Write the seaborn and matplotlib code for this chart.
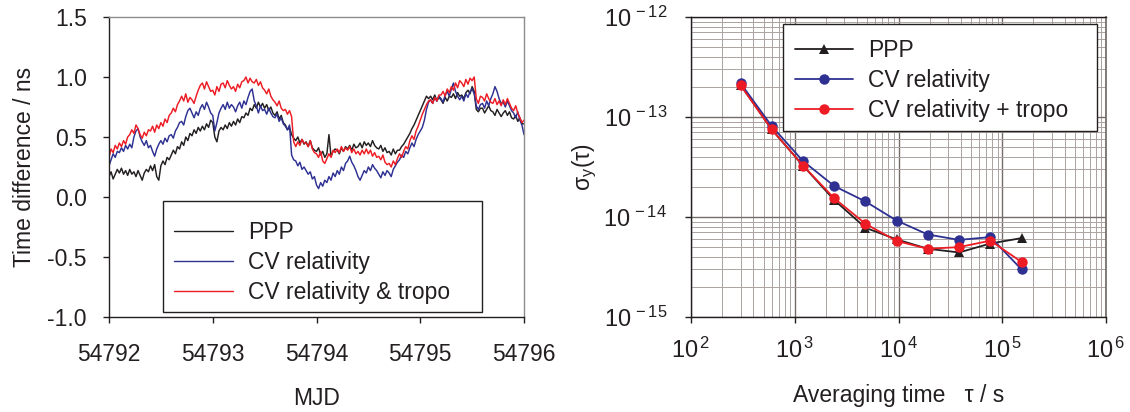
import numpy as np
import pandas as pd
import matplotlib
matplotlib.use("Agg")
import matplotlib.pyplot as plt
from matplotlib.lines import Line2D
from matplotlib.patches import Rectangle
from matplotlib.ticker import FixedLocator, FuncFormatter, LogLocator, NullFormatter
import seaborn as sns

# ---- time series of clock differences (ns), sampled every 0.02 day from MJD 54792 ----
mjd_start = 54792.0
mjd_step = 0.02

ppp = [
    0.17, 0.21, 0.15, 0.19, 0.23, 0.20, 0.24, 0.19, 0.22, 0.18,
    0.23, 0.19, 0.21, 0.17, 0.22, 0.18, 0.14, 0.20, 0.23, 0.21,
    0.26, 0.22, 0.27, 0.17, 0.14, 0.26, 0.30, 0.27, 0.33, 0.31,
    0.35, 0.39, 0.36, 0.42, 0.40, 0.46, 0.43, 0.50, 0.47, 0.53,
    0.51, 0.56, 0.53, 0.58, 0.55, 0.59, 0.56, 0.61, 0.58, 0.64,
    0.62, 0.50, 0.46, 0.55, 0.58, 0.56, 0.60, 0.57, 0.62, 0.59,
    0.63, 0.60, 0.65, 0.62, 0.67, 0.66, 0.70, 0.68, 0.74, 0.72,
    0.77, 0.74, 0.79, 0.75, 0.78, 0.74, 0.77, 0.72, 0.75, 0.70,
    0.68, 0.71, 0.65, 0.68, 0.62, 0.60, 0.56, 0.58, 0.52, 0.49,
    0.47, 0.50, 0.45, 0.48, 0.44, 0.46, 0.42, 0.47, 0.41, 0.39,
    0.38, 0.41, 0.35, 0.38, 0.33, 0.36, 0.52, 0.34, 0.38, 0.40,
    0.39, 0.36, 0.41, 0.38, 0.42, 0.40, 0.43, 0.39, 0.44, 0.41,
    0.42, 0.45, 0.41, 0.46, 0.43, 0.45, 0.42, 0.47, 0.43, 0.41,
    0.40, 0.43, 0.38, 0.41, 0.37, 0.38, 0.35, 0.40, 0.36, 0.39,
    0.39, 0.42, 0.44, 0.47, 0.50, 0.53, 0.57, 0.60, 0.64, 0.68,
    0.72, 0.76, 0.80, 0.84, 0.82, 0.84, 0.81, 0.85, 0.80, 0.83,
    0.81, 0.78, 0.83, 0.80, 0.84, 0.83, 0.86, 0.82, 0.87, 0.84,
    0.85, 0.82, 0.87, 0.89, 0.86, 0.92, 0.88, 0.73, 0.71, 0.74,
    0.74, 0.70, 0.73, 0.76, 0.72, 0.71, 0.68, 0.73, 0.70, 0.67,
    0.70, 0.72, 0.68, 0.71, 0.66, 0.65, 0.68, 0.63, 0.66, 0.61,
    0.61,
]

cv_rel = [
    0.26, 0.31, 0.36, 0.33, 0.38, 0.37, 0.41, 0.38, 0.43, 0.40,
    0.44, 0.41, 0.50, 0.55, 0.57, 0.50, 0.46, 0.43, 0.47, 0.41,
    0.43, 0.38, 0.34, 0.40, 0.44, 0.47, 0.44, 0.49, 0.46, 0.51,
    0.52, 0.49, 0.55, 0.58, 0.62, 0.63, 0.60, 0.67, 0.72, 0.74,
    0.70, 0.66, 0.71, 0.68, 0.74, 0.77, 0.73, 0.79, 0.75, 0.70,
    0.68, 0.55, 0.62, 0.70, 0.74, 0.77, 0.73, 0.79, 0.74, 0.77,
    0.75, 0.71, 0.76, 0.79, 0.74, 0.80, 0.77, 0.83, 0.88, 0.90,
    0.80, 0.76, 0.70, 0.76, 0.72, 0.73, 0.69, 0.74, 0.70, 0.67,
    0.66, 0.69, 0.63, 0.66, 0.61, 0.59, 0.56, 0.60, 0.35, 0.31,
    0.30, 0.26, 0.29, 0.23, 0.25, 0.22, 0.19, 0.21, 0.15, 0.17,
    0.10, 0.07, 0.12, 0.09, 0.14, 0.12, 0.17, 0.14, 0.20, 0.17,
    0.22, 0.19, 0.25, 0.22, 0.28, 0.30, 0.34, 0.29, 0.26, 0.22,
    0.17, 0.14, 0.18, 0.22, 0.20, 0.25, 0.22, 0.27, 0.24, 0.22,
    0.19, 0.16, 0.21, 0.18, 0.22, 0.20, 0.17, 0.23, 0.26, 0.29,
    0.31, 0.35, 0.33, 0.38, 0.36, 0.41, 0.45, 0.42, 0.48, 0.52,
    0.55, 0.58, 0.64, 0.73, 0.79, 0.81, 0.78, 0.83, 0.80, 0.84,
    0.82, 0.79, 0.85, 0.88, 0.84, 0.90, 0.95, 0.88, 0.84, 0.81,
    0.84, 0.80, 0.86, 0.83, 0.88, 0.90, 0.86, 0.76, 0.73, 0.77,
    0.78, 0.74, 0.80, 0.76, 0.82, 0.86, 0.92, 0.88, 0.82, 0.78,
    0.79, 0.75, 0.80, 0.76, 0.72, 0.70, 0.66, 0.71, 0.64, 0.60,
    0.52,
]

cv_rel_tropo = [
    0.33, 0.40, 0.37, 0.43, 0.40, 0.45, 0.42, 0.47, 0.44, 0.50,
    0.52, 0.56, 0.53, 0.60, 0.57, 0.52, 0.49, 0.54, 0.51, 0.56,
    0.55, 0.59, 0.54, 0.60, 0.57, 0.62, 0.59, 0.65, 0.62, 0.68,
    0.70, 0.74, 0.71, 0.77, 0.80, 0.84, 0.80, 0.86, 0.79, 0.83,
    0.81, 0.78, 0.84, 0.89, 0.93, 0.95, 0.90, 0.96, 0.92, 0.88,
    0.89, 0.85, 0.92, 0.88, 0.94, 0.95, 0.91, 0.97, 0.93, 0.90,
    0.92, 0.88, 0.94, 0.91, 0.96, 0.97, 1.00, 0.95, 0.99, 0.96,
    0.95, 0.98, 0.93, 0.96, 0.91, 0.89, 0.86, 0.90, 0.84, 0.81,
    0.79, 0.76, 0.80, 0.74, 0.72, 0.73, 0.69, 0.72, 0.67, 0.46,
    0.42, 0.46, 0.43, 0.48, 0.45, 0.45, 0.42, 0.47, 0.40, 0.37,
    0.36, 0.33, 0.38, 0.30, 0.28, 0.32, 0.36, 0.33, 0.39, 0.37,
    0.40, 0.37, 0.42, 0.38, 0.41, 0.39, 0.42, 0.37, 0.40, 0.36,
    0.38, 0.35, 0.39, 0.36, 0.40, 0.36, 0.39, 0.34, 0.37, 0.33,
    0.34, 0.31, 0.35, 0.29, 0.27, 0.28, 0.25, 0.30, 0.27, 0.32,
    0.36, 0.33, 0.38, 0.42, 0.40, 0.47, 0.51, 0.48, 0.55, 0.59,
    0.64, 0.69, 0.73, 0.77, 0.80, 0.81, 0.78, 0.83, 0.80, 0.85,
    0.85, 0.88, 0.84, 0.90, 0.87, 0.92, 0.89, 0.95, 0.91, 0.97,
    0.95, 0.92, 0.98, 0.94, 0.99, 0.97, 1.00, 0.82, 0.78, 0.84,
    0.83, 0.80, 0.86, 0.82, 0.79, 0.78, 0.82, 0.77, 0.80, 0.76,
    0.81, 0.77, 0.82, 0.78, 0.74, 0.72, 0.76, 0.70, 0.66, 0.62,
    0.64,
]

ts_labels = ["PPP", "CV relativity", "CV relativity & tropo"]

# ---- Allan deviation versus averaging time ----
tau = [300, 600, 1200, 2400, 4800, 9600, 19200, 38400, 76800, 153600]
adev_ppp = [2.10e-13, 7.5e-14, 3.27e-14, 1.48e-14, 7.8e-15,
            5.97e-15, 4.81e-15, 4.42e-15, 5.43e-15, 6.15e-15]
adev_cv = [2.18e-13, 8.1e-14, 3.63e-14, 2.04e-14, 1.43e-14,
           9.2e-15, 6.68e-15, 5.9e-15, 6.3e-15, 2.99e-15]
adev_cv_tropo = [2.08e-13, 7.5e-14, 3.27e-14, 1.54e-14, 8.55e-15,
                 5.75e-15, 4.81e-15, 5.0e-15, 5.8e-15, 3.55e-15]

adev_labels = ["PPP", "CV relativity", "CV relativity + tropo"]

# ---- styling ----
sns.set_theme(style="white")
plt.rcParams["font.family"] = ["Liberation Sans", "DejaVu Sans"]
plt.rcParams["mathtext.fontset"] = "custom"
plt.rcParams["mathtext.rm"] = "Liberation Sans"
plt.rcParams["mathtext.it"] = "Liberation Sans:italic"
plt.rcParams["axes.unicode_minus"] = False

ink = "#231f20"
c_black = "#231f20"
c_blue = "#2e3192"
c_red = "#ed1c24"
fs = 16.5

fig = plt.figure(figsize=(11.30, 4.12), dpi=100)
ax1 = fig.add_axes([109 / 1130, 95 / 412, 415 / 1130, 300 / 412])
ax2 = fig.add_axes([691 / 1130, 95 / 412, 415 / 1130, 300 / 412])


def boxed_legend(ax, handles, labels, box, anchor_top):
    """Legend entries without their own frame, over a plain white box."""
    x0, y0, w, h = box
    ax.add_patch(Rectangle((x0, y0), w, h, transform=ax.transAxes,
                           facecolor="white", edgecolor=ink, linewidth=1.0,
                           zorder=4, clip_on=False))
    leg = ax.legend(handles, labels, loc="upper left",
                    bbox_to_anchor=(x0, y0, w, anchor_top - y0), mode="expand",
                    fontsize=fs, frameon=False, handlelength=2.55,
                    handletextpad=0.65, labelspacing=0.3, borderpad=0.5,
                    borderaxespad=0, numpoints=1)
    leg.set_zorder(5)
    for t in leg.get_texts():
        t.set_color(ink)
    return leg


# ---- left panel: time series ----
n = len(ppp)
mjd = mjd_start + mjd_step * np.arange(n)
df_ts = pd.DataFrame({
    "MJD": np.concatenate([mjd, mjd, mjd]),
    "diff": np.concatenate([ppp, cv_rel, cv_rel_tropo]),
    "series": [ts_labels[0]] * n + [ts_labels[1]] * n + [ts_labels[2]] * n,
})
ts_palette = {ts_labels[0]: c_black, ts_labels[1]: c_blue, ts_labels[2]: c_red}
sns.lineplot(data=df_ts, x="MJD", y="diff", hue="series", palette=ts_palette,
             estimator=None, sort=False, linewidth=1.05, legend=False, ax=ax1)

ax1.set_xlim(54792, 54796)
ax1.set_ylim(-1.0, 1.5)
ax1.xaxis.set_major_locator(FixedLocator([54792, 54793, 54794, 54795, 54796]))
ax1.xaxis.set_major_formatter(FuncFormatter(lambda v, p: f"{v:.0f}"))
ax1.yaxis.set_major_locator(FixedLocator([-1.0, -0.5, 0.0, 0.5, 1.0, 1.5]))
ax1.yaxis.set_major_formatter(FuncFormatter(lambda v, p: f"{v:.1f}"))
ax1.tick_params(axis="both", which="major", direction="out", length=4, width=1,
                color=ink, labelsize=fs, labelcolor=ink)
ax1.tick_params(axis="y", pad=12)
ax1.tick_params(axis="x", pad=15)
ax1.tick_params(left=True, bottom=True)
for side in ("left", "bottom"):
    ax1.spines[side].set_color(ink)
    ax1.spines[side].set_linewidth(1.0)
for side in ("top", "right"):
    ax1.spines[side].set_color("#8c8c8c")
    ax1.spines[side].set_linewidth(1.0)
ax1.set_xlabel("MJD", fontsize=fs, color=ink, labelpad=15)
ax1.set_ylabel("Time difference / ns", fontsize=fs, color=ink, labelpad=8)

ts_handles = [Line2D([], [], color=ts_palette[k], lw=1.0) for k in ts_labels]
boxed_legend(ax1, ts_handles, ts_labels, (0.130, 0.017, 0.769, 0.37), 0.357)

# ---- right panel: Allan deviation ----
m = len(tau)
df_ad = pd.DataFrame({
    "tau": tau * 3,
    "adev": adev_ppp + adev_cv + adev_cv_tropo,
    "series": [adev_labels[0]] * m + [adev_labels[1]] * m + [adev_labels[2]] * m,
})
ad_palette = {adev_labels[0]: c_black, adev_labels[1]: c_blue, adev_labels[2]: c_red}
ad_markers = {adev_labels[0]: "^", adev_labels[1]: "o", adev_labels[2]: "o"}
ax2.set_xscale("log")
ax2.set_yscale("log")
sns.lineplot(data=df_ad, x="tau", y="adev", hue="series", style="series",
             palette=ad_palette, markers=ad_markers, dashes=False,
             estimator=None, sort=False, linewidth=1.3, markersize=7.5,
             markeredgewidth=0, legend=False, ax=ax2)

ax2.set_xlim(1e2, 1e6)
ax2.set_ylim(1e-15, 1e-12)
ax2.xaxis.set_major_locator(FixedLocator([1e2, 1e3, 1e4, 1e5, 1e6]))
ax2.yaxis.set_major_locator(FixedLocator([1e-15, 1e-14, 1e-13, 1e-12]))
pow_fmt = FuncFormatter(lambda v, p: r"$\mathregular{10^{\,%d}}$" % round(np.log10(v)))
ax2.xaxis.set_major_formatter(pow_fmt)
ax2.yaxis.set_major_formatter(pow_fmt)
ax2.xaxis.set_minor_locator(LogLocator(base=10, subs=np.arange(2, 10), numticks=20))
ax2.yaxis.set_minor_locator(LogLocator(base=10, subs=np.arange(2, 10), numticks=20))
ax2.xaxis.set_minor_formatter(NullFormatter())
ax2.yaxis.set_minor_formatter(NullFormatter())
ax2.grid(which="major", color="#746c69", linewidth=1.0)
ax2.grid(which="minor", color="#aaa3a0", linewidth=0.7)
ax2.set_axisbelow(True)
ax2.tick_params(axis="both", which="major", direction="out", length=4, width=1,
                color=ink, labelsize=17, labelcolor=ink)
ax2.tick_params(axis="both", which="minor", length=0)
ax2.tick_params(axis="y", pad=13)
ax2.tick_params(axis="x", pad=11)
ax2.tick_params(left=True, bottom=True)
for side in ("left", "bottom", "top"):
    ax2.spines[side].set_color(ink)
    ax2.spines[side].set_linewidth(1.0)
ax2.spines["right"].set_color("#746c69")
ax2.set_xlabel("Averaging time   τ / s", fontsize=fs, color=ink, labelpad=15)
ax2.set_ylabel(r"σ$_\mathregular{y}$(τ)", fontsize=fs, color=ink, labelpad=3)

ad_handles = [Line2D([], [], color=ad_palette[k], lw=1.3, marker=ad_markers[k],
                     markersize=7.5, markeredgewidth=0) for k in adev_labels]
boxed_legend(ax2, ad_handles, adev_labels, (0.222, 0.62, 0.756, 0.357), 0.965)

fig.savefig("out.png", dpi=100, facecolor="white")
